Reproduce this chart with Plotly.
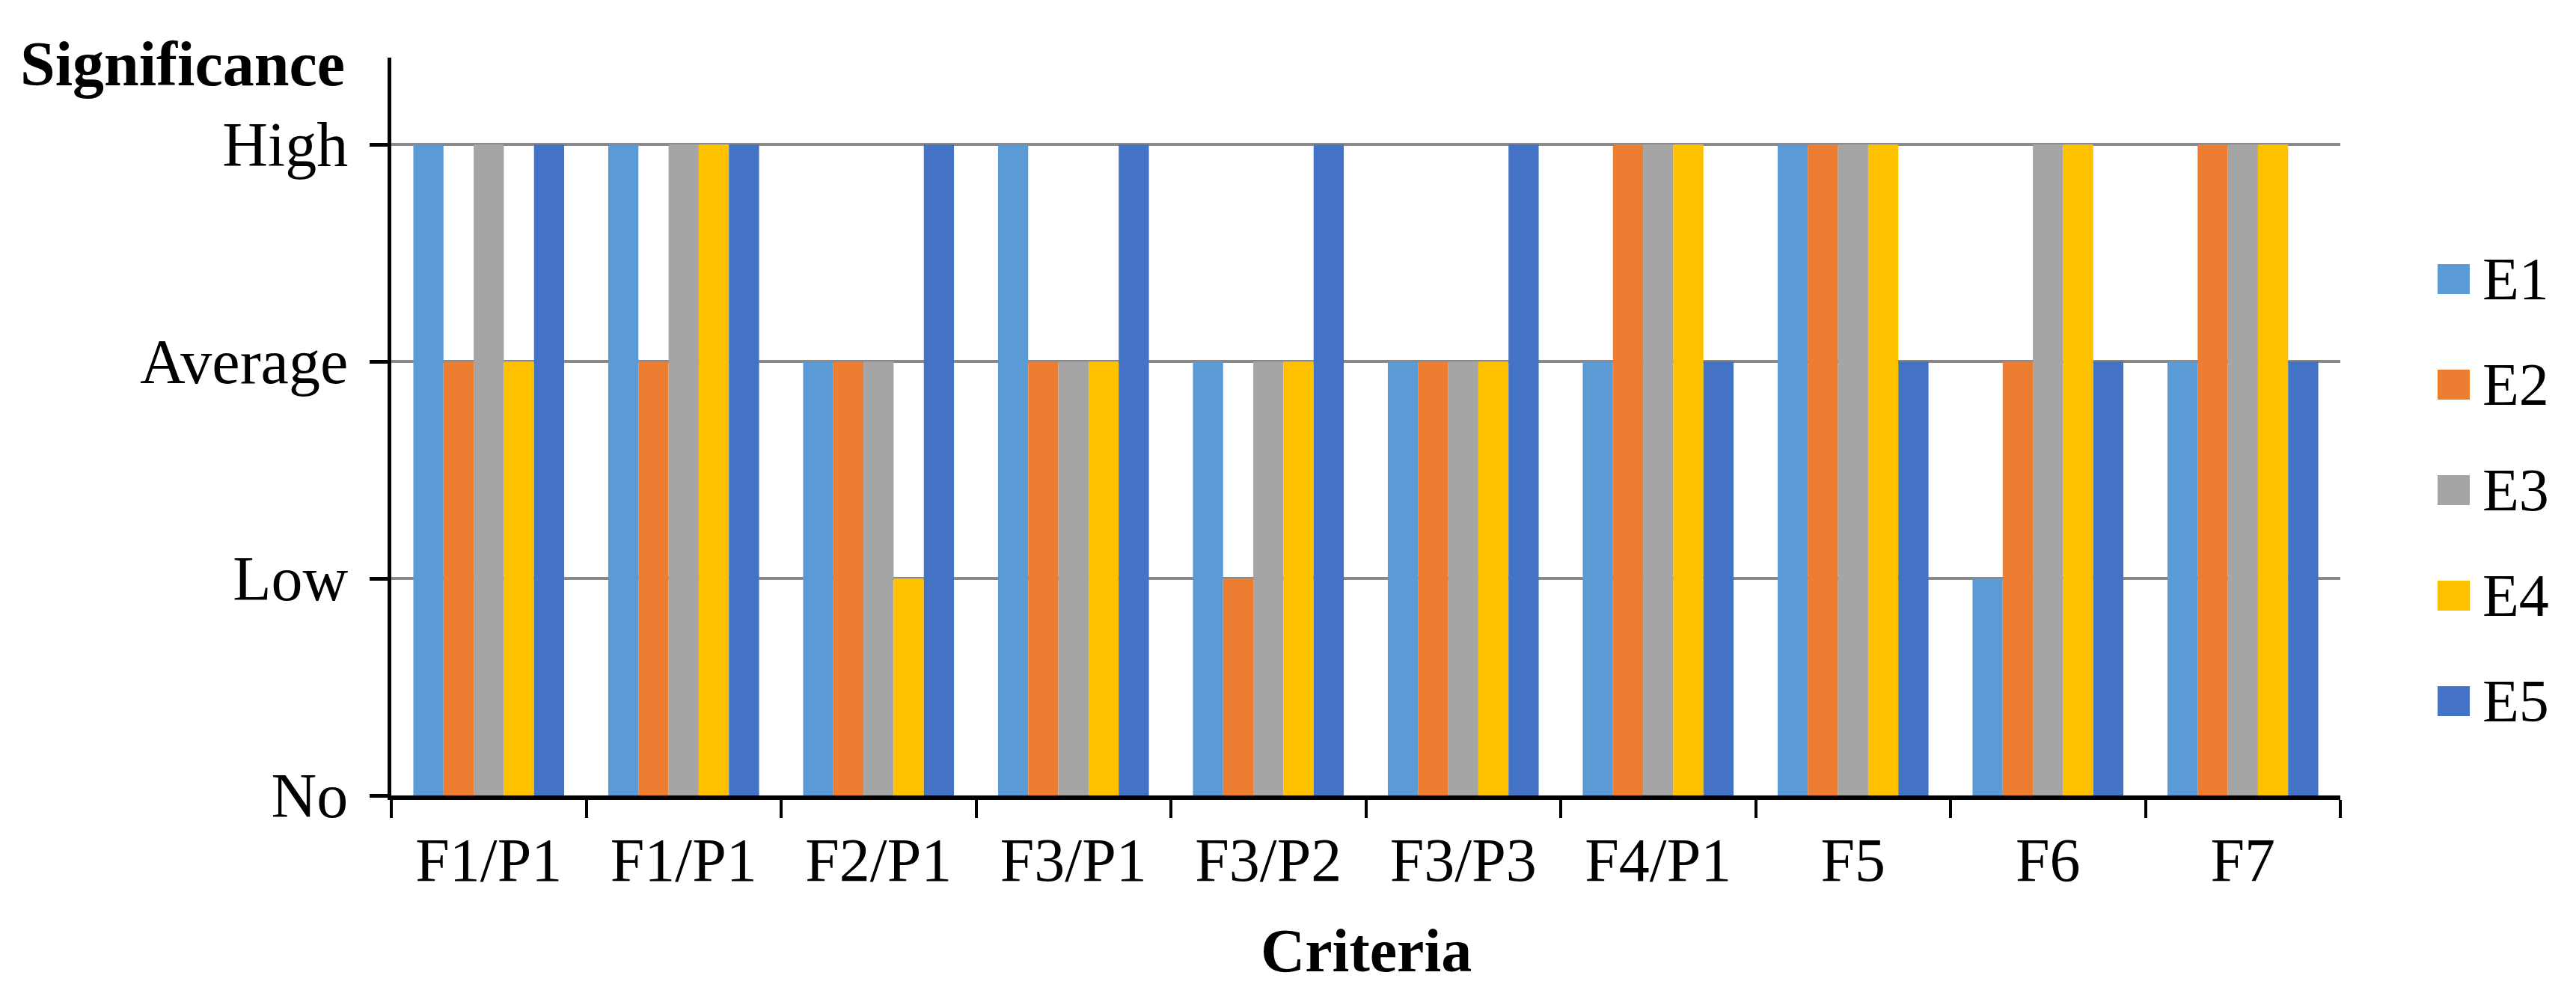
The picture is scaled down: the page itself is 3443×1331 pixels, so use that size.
import plotly.graph_objects as go

categories = ["F1/P1", "F1/P1", "F2/P1", "F3/P1", "F3/P2", "F3/P3", "F4/P1", "F5", "F6", "F7"]
level_labels = ["No", "Low", "Average", "High"]
level_values = [0, 1, 2, 3]

series_names = ["E1", "E2", "E3", "E4", "E5"]
E1 = [3, 3, 2, 3, 2, 2, 2, 3, 1, 2]
E2 = [2, 2, 2, 2, 1, 2, 3, 3, 2, 3]
E3 = [3, 3, 2, 2, 2, 2, 3, 3, 3, 3]
E4 = [2, 3, 1, 2, 2, 2, 3, 3, 3, 3]
E5 = [3, 3, 3, 3, 3, 3, 2, 2, 2, 2]
series_values = [E1, E2, E3, E4, E5]
colors = ["#5B9BD5", "#ED7D31", "#A5A5A5", "#FFC000", "#4472C4"]

FONT = "Liberation Serif, Times New Roman, serif"
OFF = 8  # default page body margin
W, H = 3443 - 2 * OFF, 1331 - 2 * OFF
L = 523 - OFF
T = 77 - OFF
R = W - (3128 - OFF)
B = H - (1063 - OFF)
PW, PH = W - L - R, H - T - B


def px_x(px):
    return (px - OFF - L) / PW


def px_y(py):
    return (H - B - (py - OFF)) / PH


xpos = list(range(len(categories)))

fig = go.Figure()
for name, vals, col in zip(series_names, series_values, colors):
    fig.add_trace(go.Bar(x=xpos, y=vals, name=name, marker=dict(color=col, line=dict(width=0)),
                         showlegend=False))

fig.update_layout(
    width=W, height=H,
    margin=dict(l=L, r=R, t=T, b=B, pad=0),
    paper_bgcolor="white", plot_bgcolor="white",
    barmode="group", bargap=0.226, bargroupgap=0,
    font=dict(family=FONT, size=80, color="black"),
    showlegend=False,
)

fig.update_xaxes(
    range=[-0.5, len(categories) - 0.5],
    tickmode="array", tickvals=xpos, ticktext=categories,
    ticks="", showgrid=False, zeroline=False,
    showline=True, linecolor="black", linewidth=6,
    tickfont=dict(family=FONT, size=82, color="black"),
    ticklabelstandoff=10,
    minor=dict(tickmode="array", tickvals=[i - 0.5 for i in range(len(categories) + 1)],
               ticks="outside", ticklen=24, tickwidth=4, tickcolor="black", showgrid=False),
)

fig.update_yaxes(
    range=[0, 3.4],
    tickmode="array", tickvals=level_values, ticktext=level_labels,
    ticks="outside", ticklen=24, tickwidth=5, tickcolor="black",
    showgrid=True, gridcolor="#898989", gridwidth=4,
    zeroline=False,
    showline=True, linecolor="black", linewidth=5,
    tickfont=dict(family=FONT, size=84, color="black"),
    ticklabelstandoff=12,
)

# axis titles
fig.add_annotation(text="<b>Significance</b>", xref="paper", yref="paper",
                   x=px_x(463), y=px_y(85), xanchor="right", yanchor="middle",
                   showarrow=False, font=dict(family=FONT, size=84, color="black"))
fig.add_annotation(text="<b>Criteria</b>", xref="paper", yref="paper",
                   x=px_x(1826), y=px_y(1270), xanchor="center", yanchor="middle",
                   showarrow=False, font=dict(family=FONT, size=82, color="black"))

# legend (drawn manually for large swatches)
for i, (name, col) in enumerate(zip(series_names, colors)):
    cy = 373 + 141 * i
    fig.add_shape(type="rect", xref="paper", yref="paper",
                  x0=px_x(3258), x1=px_x(3301), y0=px_y(cy + 20), y1=px_y(cy - 20),
                  fillcolor=col, line=dict(width=0))
    fig.add_annotation(text=name, xref="paper", yref="paper",
                       x=px_x(3316), y=px_y(cy), xanchor="left", yanchor="middle",
                       showarrow=False, font=dict(family=FONT, size=80, color="black"))

fig.write_html("out.html")
